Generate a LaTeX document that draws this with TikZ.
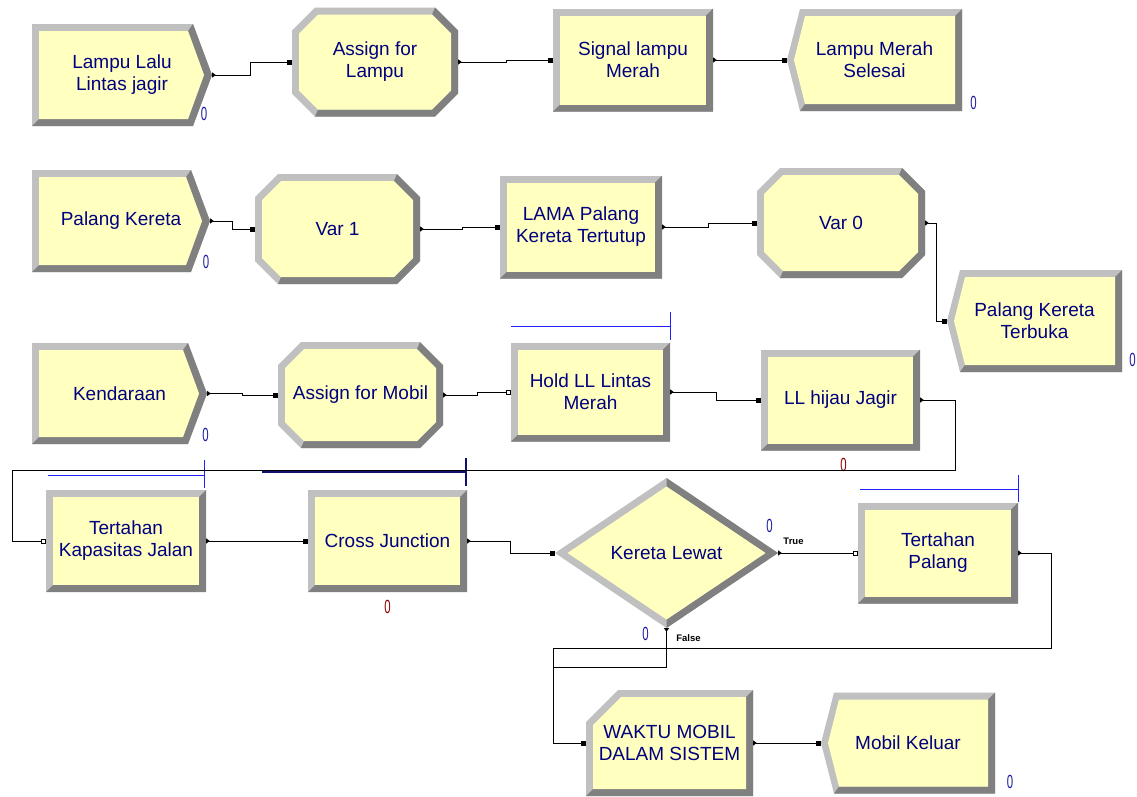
\documentclass[tikz,border=0pt]{standalone}
\usepackage{fontspec}
\newfontfamily\arialfont{Liberation Sans}
\usetikzlibrary{positioning,arrows.meta}

\definecolor{colFill}{HTML}{FFFFC0}
\definecolor{colLight}{HTML}{C0C0C0}
\definecolor{colDark}{HTML}{808080}
\definecolor{colText}{HTML}{000080}
\definecolor{colCnt}{HTML}{1C1CA0}
\definecolor{colCntRed}{HTML}{8B0000}
\definecolor{colQueue}{HTML}{2020FF}
\definecolor{colQdark}{HTML}{101070}

\newcommand\modfont{\arialfont\fontsize{19}{22}\selectfont}
\newcommand\cntfont{\arialfont\fontsize{19}{19}\selectfont}
\newcommand\lblfont{\arialfont\bfseries\fontsize{9.5}{10}\selectfont}

\newcommand\getbb{%
  \pgfpointanchor{path picture bounding box}{south west}%
  \pgfgetlastxy{\bbtx}{\bbty}%
  \pgfmathsetmacro\bxa{\bbtx}\pgfmathsetmacro\bya{\bbty}%
  \pgfpointanchor{path picture bounding box}{north east}%
  \pgfgetlastxy{\bbtx}{\bbty}%
  \pgfmathsetmacro\bxb{\bbtx}\pgfmathsetmacro\byb{\bbty}%
  \pgfmathsetmacro\bxm{(\bxa+\bxb)/2}\pgfmathsetmacro\bym{(\bya+\byb)/2}}

\tikzset{
  wh/.style 2 args={minimum width=#1pt, minimum height=#2pt},
  blk/.style={inner sep=0pt, align=center, text=colText, font=\modfont},
  process/.style={blk, path picture={\getbb
    \begin{scope}[x=1pt,y=1pt]
      \fill[colLight] (\bxa,\bya) rectangle (\bxb,\byb);
      \fill[colDark] (\bxa,\bya) -- (\bxb,\bya) -- (\bxb,\byb) -- (\bxb-7,\byb-7) -- (\bxb-7,\bya+7) -- (\bxa+7,\bya+7) -- cycle;
      \fill[colFill] (\bxa+7,\bya+7) rectangle (\bxb-7,\byb-7);
    \end{scope}}},
  hold/.style={process},
  record/.style={blk, path picture={\getbb
    \begin{scope}[x=1pt,y=1pt]
      \fill[colLight] (\bxa,\bya) -- (\bxa,\byb-32) -- (\bxa+32,\byb) -- (\bxb,\byb) -- (\bxb,\bya) -- cycle;
      \fill[colDark] (\bxa,\bya) -- (\bxb,\bya) -- (\bxb,\byb) -- (\bxb-7,\byb-7) -- (\bxb-7,\bya+7) -- (\bxa+7,\bya+7) -- cycle;
      \fill[colFill] (\bxa+7,\bya+7) -- (\bxa+7,\byb-35) -- (\bxa+35,\byb-7) -- (\bxb-7,\byb-7) -- (\bxb-7,\bya+7) -- cycle;
    \end{scope}}},
  create/.style={blk, path picture={\getbb
    \begin{scope}[x=1pt,y=1pt]
      \fill[colLight] (\bxa,\bya) -- (\bxb-19,\bya) -- (\bxb,\bym) -- (\bxb-19,\byb) -- (\bxa,\byb) -- cycle;
      \fill[colDark] (\bxa,\bya) -- (\bxb-19,\bya) -- (\bxb,\bym) -- (\bxb-19,\byb) -- (\bxb-24,\byb-7) -- (\bxb-8,\bym) -- (\bxb-24,\bya+7) -- (\bxa+7,\bya+7) -- cycle;
      \fill[colFill] (\bxa+7,\bya+7) -- (\bxb-24,\bya+7) -- (\bxb-8,\bym) -- (\bxb-24,\byb-7) -- (\bxa+7,\byb-7) -- cycle;
    \end{scope}}},
  dispose/.style={blk, path picture={\getbb
    \begin{scope}[x=1pt,y=1pt]
      \fill[colLight] (\bxa,\bym) -- (\bxa+13,\byb) -- (\bxb,\byb) -- (\bxb,\bya) -- (\bxa+13,\bya) -- cycle;
      \fill[colDark] (\bxb,\byb) -- (\bxb,\bya) -- (\bxa+13,\bya) -- (\bxa+18,\bya+7) -- (\bxb-7,\bya+7) -- (\bxb-7,\byb-7) -- cycle;
      \fill[colFill] (\bxa+7,\bym) -- (\bxa+18,\byb-7) -- (\bxb-7,\byb-7) -- (\bxb-7,\bya+7) -- (\bxa+18,\bya+7) -- cycle;
    \end{scope}}},
  assign/.style={blk, path picture={\getbb
    \begin{scope}[x=1pt,y=1pt]
      \fill[colLight] (\bxa+23,\byb) -- (\bxb-23,\byb) -- (\bxb,\byb-23) -- (\bxb,\bya+23) -- (\bxb-23,\bya) -- (\bxa+23,\bya) -- (\bxa,\bya+23) -- (\bxa,\byb-23) -- cycle;
      \fill[colDark] (\bxb-23,\byb) -- (\bxb,\byb-23) -- (\bxb,\bya+23) -- (\bxb-23,\bya) -- (\bxa+23,\bya) -- (\bxa+26,\bya+7) -- (\bxb-26,\bya+7) -- (\bxb-7,\bya+26) -- (\bxb-7,\byb-26) -- (\bxb-26,\byb-7) -- cycle;
      \fill[colFill] (\bxa+26,\byb-7) -- (\bxb-26,\byb-7) -- (\bxb-7,\byb-26) -- (\bxb-7,\bya+26) -- (\bxb-26,\bya+7) -- (\bxa+26,\bya+7) -- (\bxa+7,\bya+26) -- (\bxa+7,\byb-26) -- cycle;
    \end{scope}}},
  decide/.style={blk, path picture={\getbb
    \begin{scope}[x=1pt,y=1pt]
      \fill[colLight] (\bxa,\bym) -- (\bxm,\byb) -- (\bxb,\bym) -- (\bxm,\bya) -- cycle;
      \fill[colDark] (\bxm,\byb) -- (\bxb,\bym) -- (\bxm,\bya) -- (\bxm,\bya+8.5) -- (\bxb-12.5,\bym) -- (\bxm,\byb-8.5) -- cycle;
      \fill[colFill] (\bxa+12.5,\bym) -- (\bxm,\byb-8.5) -- (\bxb-12.5,\bym) -- (\bxm,\bya+8.5) -- cycle;
    \end{scope}}},
  cnt/.style={inner sep=0pt, font=\cntfont, text=colCnt, xscale=0.6},
  cntred/.style={cnt, text=colCntRed},
  lbl/.style={inner sep=0pt, font=\lblfont},
  conn/.style={line width=1pt, arrows={Triangle[reversed,length=3.5pt,width=5pt]-Square[length=5pt,width=5pt]}},
  connhold/.style={line width=1pt, arrows={Triangle[reversed,length=3.5pt,width=5pt]-Square[open,length=5pt,width=5pt]}},
  connjoin/.style={line width=1pt, arrows={Triangle[reversed,length=3.5pt,width=5pt]-}},
  qbar/.style={colQueue, line width=1.2pt},
  qbardark/.style={colQdark, line width=1.6pt}
}

\begin{document}
\begin{tikzpicture}[x=1pt, y=-1pt, on grid]
\path[use as bounding box, fill=white] (0,0) rectangle (1137,796);

\node[create, wh={180}{102}] (lampu) at (122,75) {Lampu Lalu\\Lintas jagir};
\node[assign, wh={166}{109}] (asgLampu) at (375,62) {Assign for\\Lampu};
\node[process, wh={160}{103}] (sigMerah) at (633,60) {Signal lampu\\Merah};
\node[dispose, wh={175}{102}] (lampuSelesai) at (874.5,60) {Lampu Merah\\Selesai};

\node[create, wh={178}{102}] (palang) at (121,221) {Palang Kereta};
\node[assign, wh={165}{110}] (var1) at (337.5,229) {Var 1};
\node[process, wh={162}{103}] (lamaPalang) at (581,227) {LAMA Palang\\Kereta Tertutup};
\node[assign, wh={168}{110}] (var0) at (841,223) {Var 0};
\node[dispose, wh={175}{102}] (palangBuka) at (1034.5,321) {Palang Kereta\\Terbuka};

\node[create, wh={175}{101}] (kendaraan) at (119.5,393.5) {Kendaraan};
\node[assign, wh={165}{106}] (asgMobil) at (360.5,395) {Assign for Mobil};
\node[hold, wh={159}{99}] (holdLL) at (590.5,392) {Hold LL Lintas\\Merah};
\node[process, wh={159}{101}] (hijau) at (840.5,400) {LL hijau Jagir};

\node[hold, wh={160}{102}] (kapasitas) at (126,541) {Tertahan\\Kapasitas Jalan};
\node[process, wh={159}{102}] (cross) at (387.5,541) {Cross Junction};
\node[decide, wh={223}{150}] (kereta) at (666.5,553) {Kereta Lewat};
\node[hold, wh={160}{101}] (tPalang) at (938,553) {Tertahan\\Palang};

\node[record, wh={167}{106}] (waktu) at (669.5,743) {WAKTU MOBIL\\DALAM SISTEM};
\node[dispose, wh={174}{101}] (keluar) at (908,743) {Mobil Keluar};

\node[cnt] (nLampu) [below right=39pt and 82pt of lampu] {0};
\node[cnt] (nSelesai) [below right=43pt and 99pt of lampuSelesai] {0};
\node[cnt] (nPalang) [below right=41pt and 85pt of palang] {0};
\node[cnt] (nBuka) [below right=39pt and 98pt of palangBuka] {0};
\node[cnt] (nKendaraan) [below right=41pt and 86pt of kendaraan] {0};
\node[cntred] (nHijau) [below right=65pt and 3pt of hijau] {0};
\node[cntred] (nCross) [below=66pt of cross] {0};
\node[cnt] (nTrue) [above right=27pt and 103pt of kereta] {0};
\node[cnt] (nFalse) [below left=81pt and 21pt of kereta] {0};
\node[cnt] (nKeluar) [below right=39pt and 102pt of keluar] {0};
\node[lbl] (tTrue) [above right=12pt and 127pt of kereta] {True};
\node[lbl] (tFalse) [below right=85pt and 22pt of kereta] {False};

\draw[qbar] ([yshift=16pt]holdLL.north west) -- ([yshift=16pt]holdLL.north east) ++(0,-14) -- ++(0,28);
\draw[qbar] ([xshift=2pt,yshift=14pt]kapasitas.north west) -- ([xshift=-2pt,yshift=14pt]kapasitas.north east) ++(0,-16) -- ++(0,28);
\draw[qbardark] ([xshift=-46pt,yshift=18pt]cross.north west) -- ([xshift=-1pt,yshift=18pt]cross.north east) ++(0,-14) -- ++(0,28);
\draw[qbar] ([xshift=2pt,yshift=13pt]tPalang.north west) -- ([yshift=13pt]tPalang.north east) ++(0,-14) -- ++(0,27);

\coordinate (loopR) at (955,470);
\coordinate (loopL) at (12,470);
\coordinate (retR) at (1051,648);
\coordinate (retL) at (553,648);
\coordinate (falseL) at (553,667);

\draw[conn] (lampu.east) -- ++(38,0) |- (asgLampu.west);
\draw[conn] (asgLampu.east) -- ++(48,0) |- (sigMerah.west);
\draw[conn] (sigMerah.east) -- (lampuSelesai.west);
\draw[conn] (palang.east) -- ++(22,0) |- (var1.west);
\draw[conn] (var1.east) -- ++(42,0) |- (lamaPalang.west);
\draw[conn] (lamaPalang.east) -- ++(46,0) |- (var0.west);
\draw[conn] (var0.east) -- ++(11,0) |- (palangBuka.west);
\draw[conn] (kendaraan.east) -- ++(35,0) |- (asgMobil.west);
\draw[connhold] (asgMobil.east) -- ++(34,0) |- (holdLL.west);
\draw[conn] (holdLL.east) -- ++(46,0) |- (hijau.west);
\draw[connhold] (hijau.east) -| (loopR) -- (loopL) |- (kapasitas.west);
\draw[conn] (kapasitas.east) -- (cross.west);
\draw[conn] (cross.east) -- ++(43,0) |- (kereta.west);
\draw[connhold] (kereta.east) -- (tPalang.west);
\draw[conn] (tPalang.east) -| (retR) -- (retL) |- (waktu.west);
\draw[connjoin] (kereta.south) |- (falseL);
\draw[conn] (waktu.east) -- (keluar.west);
\end{tikzpicture}
\end{document}
